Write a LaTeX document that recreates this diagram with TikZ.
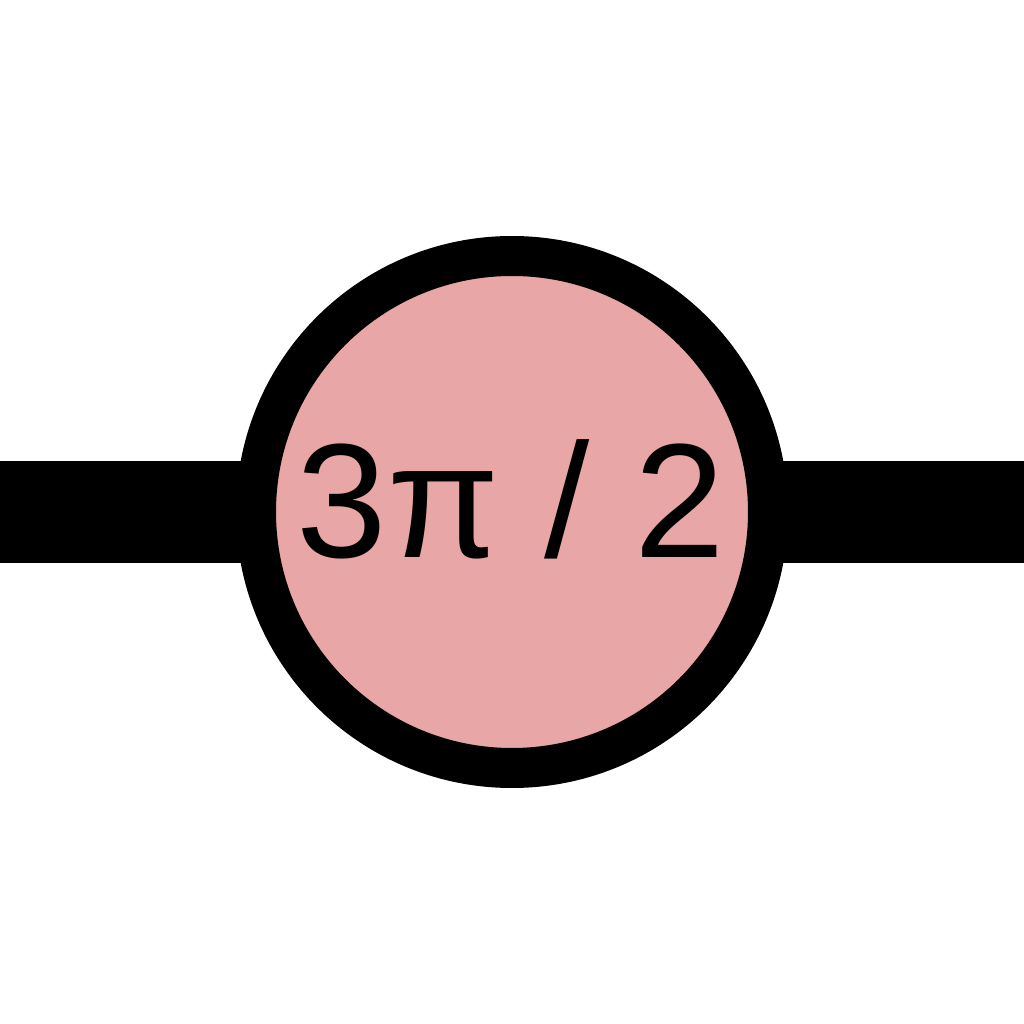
\documentclass[tikz,border=0pt]{standalone}
\usepackage{fontspec}
\setmainfont{Liberation Sans}
\definecolor{nodepink}{HTML}{E8A6A6}
\tikzset{
  wire/.style={line width=1.02cm, line cap=butt, black},
  phasenode/.style={circle, draw=black, fill=nodepink, line width=0.4cm, minimum size=5.12cm, inner sep=0pt},
  phaselabel/.style={font=\fontsize{46.3}{55}\selectfont, anchor=base, inner sep=0pt}
}
\begin{document}
\begin{tikzpicture}
\useasboundingbox (0,0) rectangle (10.24,10.24);
\coordinate (l) at (0,5.12);
\coordinate (r) at (10.24,5.12);
\draw[wire] (l) -- (r);
\node[phasenode] (c) at (5.12,5.12) {};
\node[phaselabel] (t) at (5.11,4.66) {3π / 2};
\end{tikzpicture}
\end{document}
